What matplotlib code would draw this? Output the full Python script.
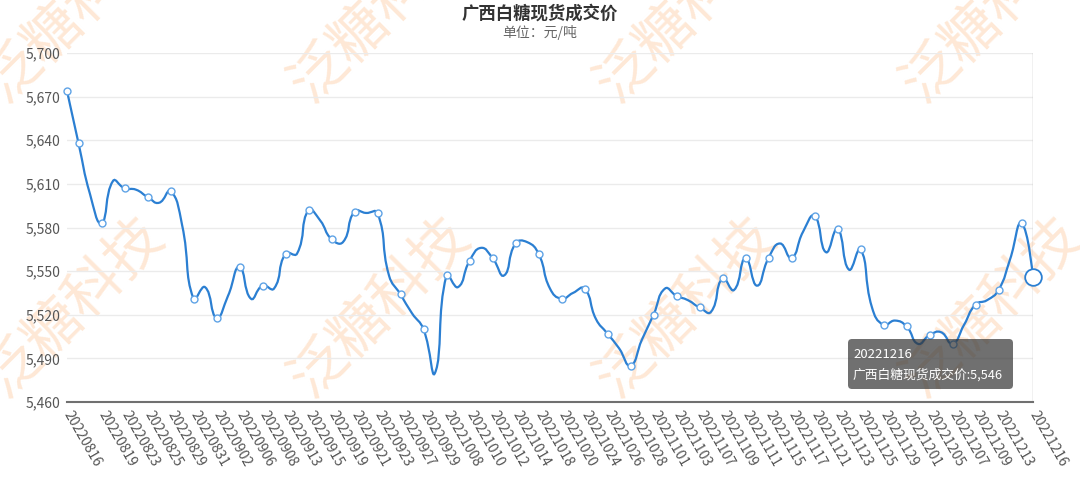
import numpy as np
import matplotlib.pyplot as plt
from matplotlib.path import Path
from matplotlib.patches import PathPatch, FancyBboxPatch

plt.rcParams['font.family'] = ['Noto Sans CJK SC', 'DejaVu Sans']

# 交易日
dates = [
    "20220816", "20220817", "20220818", "20220819", "20220822", "20220823", "20220824", "20220825",
    "20220826", "20220829", "20220830", "20220831", "20220901", "20220902", "20220905", "20220906",
    "20220907", "20220908", "20220909", "20220913", "20220914", "20220915", "20220916", "20220919",
    "20220920", "20220921", "20220922", "20220923", "20220926", "20220927", "20220928", "20220929",
    "20220930", "20221008", "20221009", "20221010", "20221011", "20221012", "20221013", "20221014",
    "20221017", "20221018", "20221019", "20221020", "20221021", "20221024", "20221025", "20221026",
    "20221027", "20221028", "20221031", "20221101", "20221102", "20221103", "20221104", "20221107",
    "20221108", "20221109", "20221110", "20221111", "20221114", "20221115", "20221116", "20221117",
    "20221118", "20221121", "20221122", "20221123", "20221124", "20221125", "20221128", "20221129",
    "20221130", "20221201", "20221202", "20221205", "20221206", "20221207", "20221208", "20221209",
    "20221212", "20221213", "20221214", "20221215", "20221216",
]

# 广西白糖现货成交价 (元/吨)
prices = [
    5674, 5638, 5603, 5583, 5612, 5607, 5606, 5601, 5597, 5605, 5582, 5531, 5539, 5518, 5533, 5553,
    5531, 5540, 5538, 5562, 5562, 5592, 5585, 5572, 5570, 5591, 5590, 5590, 5547, 5534, 5521, 5510,
    5480, 5547, 5539, 5557, 5566, 5559, 5547, 5569, 5570, 5562, 5538, 5531, 5535, 5538, 5517, 5507,
    5497, 5485, 5503, 5520, 5538, 5533, 5530, 5525, 5522, 5545, 5537, 5559, 5540, 5559, 5569, 5559,
    5577, 5588, 5563, 5579, 5551, 5565, 5525, 5513, 5516, 5512, 5500, 5506, 5508, 5500, 5513, 5527,
    5530, 5537, 5558, 5583, 5546,
]

y_ticks = [5460, 5490, 5520, 5550, 5580, 5610, 5640, 5670, 5700]

title = "广西白糖现货成交价"
subtitle = "单位：元/吨"
series_name = "广西白糖现货成交价"

W, H = 1080, 482
blue = '#2b7fd2'

fig = plt.figure(figsize=(W / 100, H / 100), dpi=100)
ax = fig.add_axes([67 / W, 1 - 402 / H, (1033 - 67) / W, (402 - 53) / H])
ax.set_facecolor('none')

n = len(prices)
x = np.arange(n)
ax.set_xlim(0, n - 1)
ax.set_ylim(y_ticks[0], y_ticks[-1])

# 平滑曲线 (类似 echarts smooth=0.5), 在像素坐标下计算控制点
pts = ax.transData.transform(np.column_stack([x, prices]))
smooth = 0.5
verts = [pts[0]]
codes = [Path.MOVETO]
cp0 = pts[0]
for i in range(1, n):
    p = pts[i]
    if i < n - 1:
        prev, nxt = pts[i - 1], pts[i + 1]
        v = nxt - prev
        l0 = np.hypot(*(p - prev))
        l1 = np.hypot(*(nxt - p))
        r = l1 / (l0 + l1)
        cp1 = p - v * smooth * (1 - r)
        new_cp0 = p + v * smooth * r
    else:
        cp1 = p
        new_cp0 = p
    verts += [cp0, cp1, p]
    codes += [Path.CURVE4] * 3
    cp0 = new_cp0
verts = ax.transData.inverted().transform(np.array(verts))
ax.add_patch(PathPatch(Path(verts, codes), fill=False, edgecolor=blue, lw=1.6, zorder=3))

# 标记点
mark_idx = [0] + list(range(1, n - 1, 2))
ax.plot(x[mark_idx], np.array(prices)[mark_idx], ls='none', marker='o', ms=5,
        mfc='white', mec='#5fa3e6', mew=1.0, zorder=4, clip_on=False)
ax.plot(x[-1], prices[-1], ls='none', marker='o', ms=12, mfc='white', mec=blue, mew=1.3,
        zorder=5, clip_on=False)

# 指示线
ax.axvline(n - 1, color='#b8b8b8', lw=1, zorder=2)

ax.set_yticks(y_ticks)
ax.set_yticklabels([f"{v:,}" for v in y_ticks])
ax.grid(axis='y', color='#ebebeb', lw=1, zorder=1)
ax.set_axisbelow(True)

label_idx = [0] + list(range(3, n - 2, 2)) + [n - 1]
ax.set_xticks(label_idx)
ax.set_xticklabels([dates[i] for i in label_idx], rotation=-60, ha='left', va='center',
                   rotation_mode='anchor')

ax.tick_params(axis='y', length=0, pad=5, labelsize=10, labelcolor='#555555')
ax.tick_params(axis='x', length=0, pad=7, labelsize=10, labelcolor='#555555')
for s in ['top', 'right', 'left']:
    ax.spines[s].set_visible(False)
ax.spines['bottom'].set_color('#707070')
ax.spines['bottom'].set_linewidth(1.5)

fig.text(0.5, 1 - 14 / H, title, ha='center', va='center', fontsize=12.5, fontweight='bold', color='#333333')
fig.text(0.5, 1 - 33 / H, subtitle, ha='center', va='center', fontsize=10, color='#666666')

# 水印
for wy in [12, 307]:
    for wx in [74, 380, 686, 992]:
        fig.text(wx / W, 1 - wy / H, "泛糖科技", rotation=45, ha='center', va='center',
                 fontsize=41, color='#fee8d6', fontweight='light', zorder=-1)

# 提示框
box = FancyBboxPatch((848, H - 389), 165, 50, boxstyle='round,pad=0,rounding_size=4',
                     transform=None, facecolor=(0.2, 0.2, 0.2, 0.7), edgecolor='none', zorder=10)
fig.patches.append(box)
fig.text(853 / W, 1 - 355 / H, dates[-1], ha='left', va='center', fontsize=9.5, color='white', zorder=11)
fig.text(853 / W, 1 - 375 / H, f"{series_name}:{prices[-1]:,}", ha='left', va='center',
         fontsize=9.2, color='white', zorder=11)

fig.savefig('out.png', dpi=100)
